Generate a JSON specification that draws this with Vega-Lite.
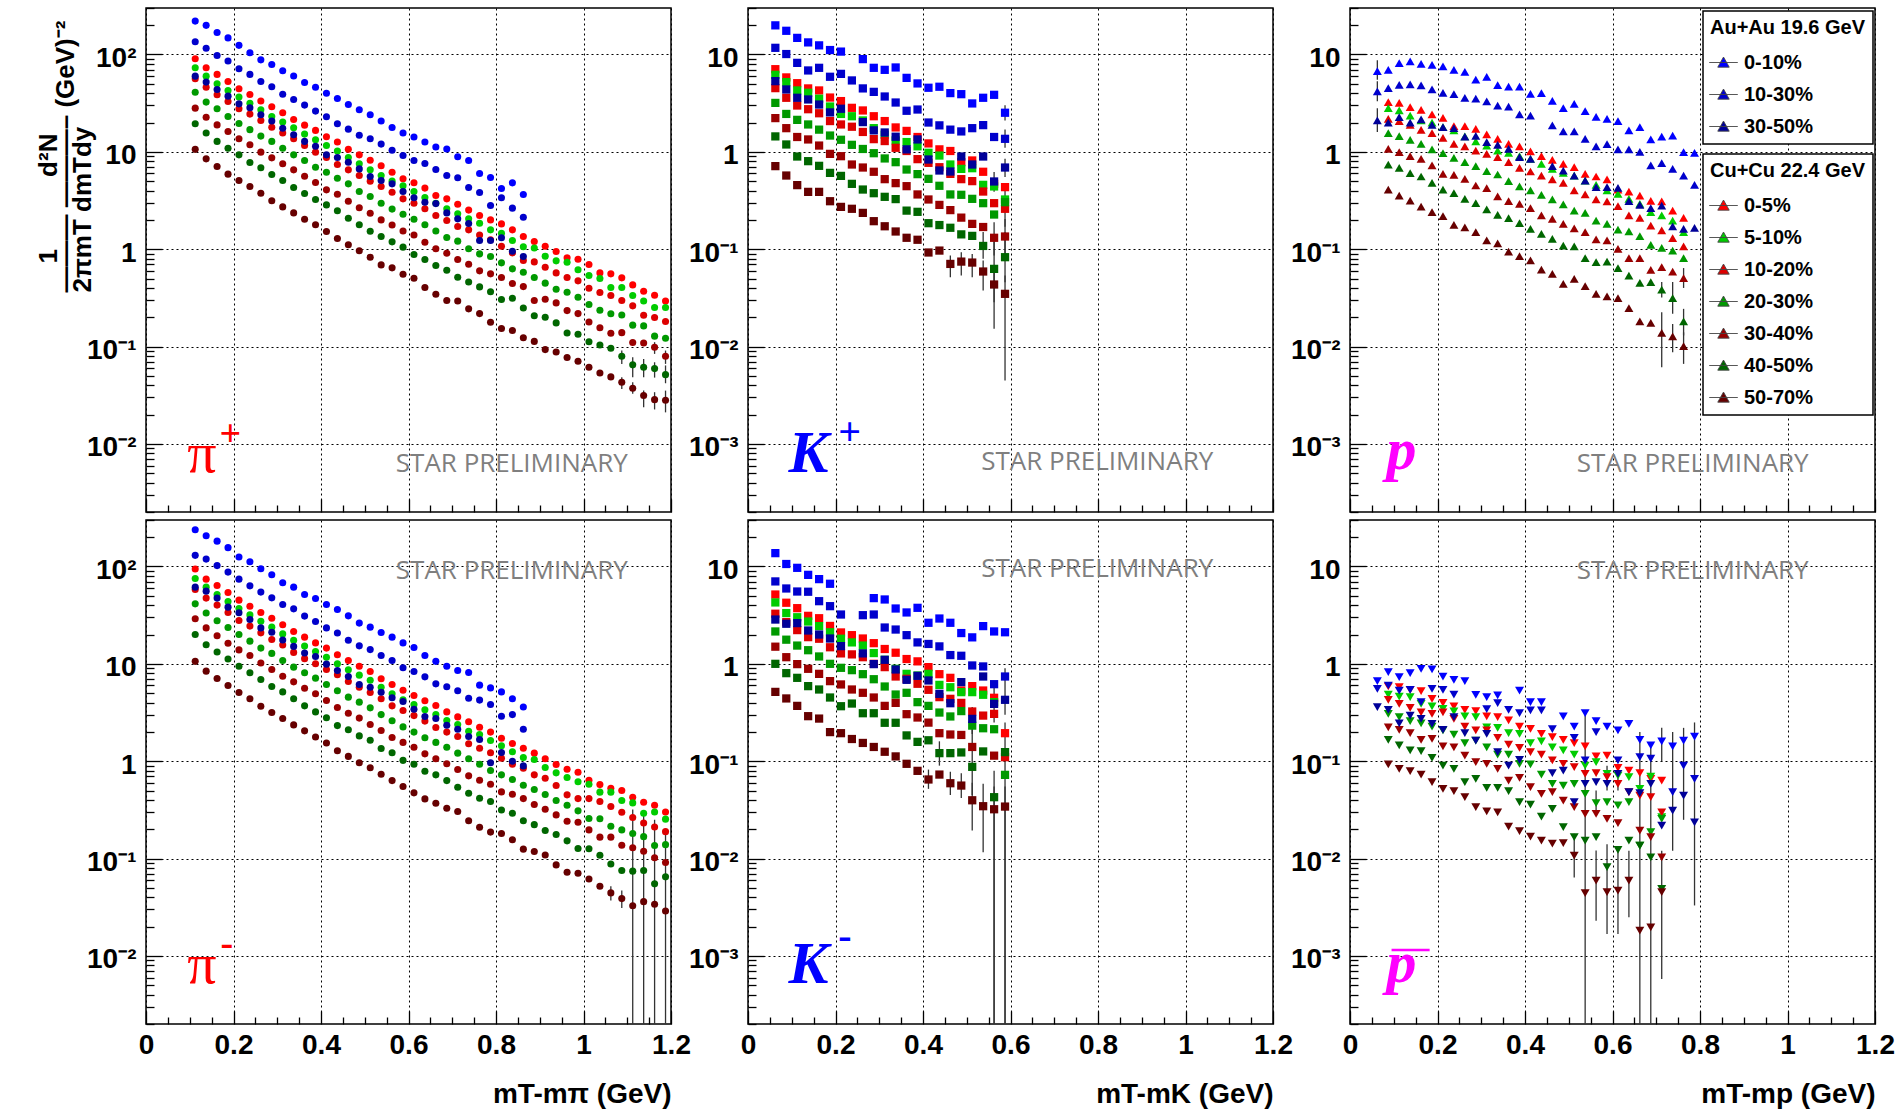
{
"$schema":"https://vega.github.io/schema/vega-lite/v6.json",
"background":"white",
"padding":{"left":34,"top":6,"right":5,"bottom":0},
"data":{"values":"p,x,0-10%,10-30%,30-50%,0-5%,5-10%,10-20%,20-30%,30-40%,40-50%,50-70%\na,0.1125,220,135,59.9,90.2,73,56.2,41,28.1,19.4,10.6\na,0.1375,199,116,52,73,59.9,46.1,32.4,22.7,15.6,8.47\na,0.1625,168,97.7,43.7,62.4,50,38.5,27.7,18.9,12.8,7.06\na,0.1875,148,85.5,37.3,52.8,42.7,32.9,23.1,16.2,10.9,5.9\na,0.2125,124,71.3,31.1,44.4,36.5,27.7,19.5,13.6,9.31,5.07\na,0.2375,104,62.4,28.3,38.8,31.6,24.4,16.9,11.8,7.76,4.4\na,0.2625,88,52.8,24,33.2,27,21,14.5,9.93,6.85,3.76\na,0.2875,79,46.6,20.7,29,23.1,17.9,12.8,8.67,5.85,3.14\na,0.3125,68,39.1,17.5,25.2,20.2,15.6,10.9,7.53,5.07,2.72\na,0.3375,60,34.5,15,21.5,17.7,13.6,9.31,6.53,4.3,2.36\na,0.3625,51.5,30.2,12.8,18.8,15.2,11.6,8.15,5.62,3.73,2.03\na,0.3875,46,26.2,11.4,16.6,13.3,9.93,6.95,4.84,3.24,1.78\na,0.4125,40,22.9,9.31,14.3,11.6,8.74,6.18,4.07,2.85,1.52\na,0.4375,35.3,19.4,8.74,12.6,10.2,7.41,5.36,3.67,2.48,1.29\na,0.4625,30.6,17.1,7.83,10.6,8.74,6.53,4.69,3.11,2.08,1.11\na,0.4875,27,14.8,6.68,9.31,7.53,5.71,3.91,2.66,1.78,0.962\na,0.5125,24,13.6,5.58,8.2,6.53,5,3.48,2.34,1.53,0.828\na,0.5375,20.7,12,5.07,7.18,5.71,4.4,2.97,2,1.35,0.69\na,0.5625,17.8,10.4,4.69,6.18,5,3.85,2.58,1.77,1.19,0.643\na,0.5875,15.6,9.16,3.91,5.28,4.48,3.29,2.29,1.54,1.05,0.553\na,0.6125,14.2,8.15,3.37,4.81,3.91,2.97,2.03,1.4,0.881,0.504\na,0.6375,12.6,7.59,3.04,4.24,3.4,2.6,1.78,1.18,0.783,0.404\na,0.6625,11.2,6.58,2.94,3.56,2.97,2.22,1.54,1.01,0.679,0.345\na,0.6875,10.7,5.71,2.36,3.29,2.6,1.97,1.32,0.91,0.608,0.297\na,0.7125,8.9,5.41,2.05,2.9,2.31,1.71,1.21,0.783,0.515,0.294\na,0.7375,8.15,4.3,1.84,2.52,2.05,1.58,1.01,0.702,0.461,0.244\na,0.7625,6,3.82,1.23,2.22,1.85,1.4,0.895,0.599,0.41,0.218\na,0.7875,5.45,2.81,1.23,2,1.58,1.25,0.841,0.558,0.365,0.178\na,0.8125,4.2,3.37,1.31,1.82,1.46,1.07,0.724,0.512,0.304,0.153\na,0.8375,4.8,2.64,0.953,1.58,1.23,0.916,0.628,0.444,0.314,0.146\na,0.8625,3.65,2.13,0.841,1.35,1.06,0.765,0.581,0.413,0.249,0.123\na,0.8875,,,,1.2,1.03,0.741,0.512,0.297,0.207,0.113\na,0.9125,,,,1.07,0.847,0.653,0.448,0.306,0.2,0.0931\na,0.9375,,,,0.946,0.759,0.571,0.388,0.281,0.175,0.0881\na,0.9625,,,,0.815,0.735,0.512,0.361,0.234,0.138,0.0771\na,0.9875,,,,0.789,0.614,0.473,0.321,0.218,0.134,0.0706\na,1.0125,,,,0.695,0.536,0.397,0.27,0.179,0.112,0.0614\na,1.0375,,,,0.571,0.5,0.359,0.236,0.156,0.104,0.0536\na,1.0625,,,,0.558,0.404,0.334,0.217,0.137,0.0962,0.0488\na,1.0875,,,,0.508,0.404,0.297,0.211,0.139,0.0796,0.0431\na,1.1125,,,,0.43,0.334,0.262,0.166,0.11,0.0649,0.0373\na,1.1375,,,,0.37,0.294,0.21,0.163,0.109,0.0614,0.0314\na,1.1625,,,,0.337,0.252,0.199,0.128,0.0984,0.0594,0.0285\na,1.1875,,,,0.294,0.252,0.181,0.122,0.0796,0.0515,0.0281\nd,0.1125,238,130,61.3,94,75.3,58.1,41.3,29,20,10.6\nd,0.1375,207,119,55.8,74.1,61.3,47.3,33.2,23.4,15.7,8.41\nd,0.1625,182,102,47.3,63.8,51.5,40.1,27.7,19.4,13.2,7.06\nd,0.1875,156,87.5,38.2,54.1,43.7,33.7,23.6,16.3,11.2,5.98\nd,0.2125,125,74.1,33.4,45.1,37,27.9,20,13.9,9.46,5.07\nd,0.2375,112,63.2,28.5,39.1,31.8,24.4,17.1,12.2,8.09,4.37\nd,0.2625,94.6,54.5,23.4,33.7,27.4,20.8,14.5,10.2,6.9,3.67\nd,0.2875,82.1,47.6,21.1,29.4,23.8,17.8,12.8,8.74,5.85,3.16\nd,0.3125,67.9,40.7,17.6,25.2,20.3,15.6,10.8,7.46,5.15,2.74\nd,0.3375,61.3,36.7,15.1,21.5,17.5,13.1,9.25,6.53,4.37,2.36\nd,0.3625,51.5,30.9,12.9,18.8,15.2,11.3,8.09,5.62,3.7,2.05\nd,0.3875,46.9,27.2,11.9,16.4,13.4,10,7.13,4.92,3.21,1.77\nd,0.4125,40.7,23.4,9.93,14.5,11.7,8.74,6.13,4.2,2.79,1.54\nd,0.4375,36.1,20.7,8.55,12.4,10,7.71,5.28,3.56,2.32,1.28\nd,0.4625,31.1,17.5,7.41,10.8,8.67,6.58,4.55,3.11,2.1,1.12\nd,0.4875,26.2,15.3,6.13,9.46,7.65,5.75,4.04,2.77,1.82,0.962\nd,0.5125,23.8,14,5.75,8.34,6.79,5.07,3.53,2.38,1.64,0.855\nd,0.5375,21,12.2,5.11,7.02,5.75,4.37,3.01,2.07,1.35,0.735\nd,0.5625,18.8,10.8,4.48,6.13,4.92,3.7,2.6,1.75,1.22,0.632\nd,0.5875,16.4,9.1,4.1,5.36,4.27,3.32,2.25,1.56,1.02,0.55\nd,0.6125,14.7,8.34,3.42,4.73,3.82,2.94,1.99,1.39,0.931,0.473\nd,0.6375,12.2,7.35,2.88,4.17,3.37,2.58,1.74,1.19,0.789,0.41\nd,0.6625,10.6,6.23,2.74,3.73,3.01,2.22,1.56,1.06,0.724,0.37\nd,0.6875,9.46,5.81,2.34,3.21,2.62,1.99,1.39,0.94,0.632,0.329\nd,0.7125,8.55,5.28,2.13,2.85,2.38,1.79,1.21,0.821,0.541,0.304\nd,0.7375,8.15,4.44,1.79,2.54,2.03,1.51,1.06,0.707,0.469,0.245\nd,0.7625,6.04,4.24,1.67,2.23,1.88,1.36,0.931,0.638,0.417,0.21\nd,0.7875,5.66,3.82,0.962,1.99,1.63,1.22,0.802,0.581,0.385,0.187\nd,0.8125,5.15,2.9,1.23,1.72,1.44,1.07,0.724,0.484,0.316,0.181\nd,0.8375,4.37,3.01,1,1.52,1.25,0.931,0.649,0.458,0.292,0.156\nd,0.8625,3.61,2.13,0.895,1.36,1.09,0.847,0.566,0.413,0.245,0.125\nd,0.8875,,,,1.21,1.04,0.724,0.512,0.359,0.223,0.118\nd,0.9125,,,,1.06,0.861,0.668,0.455,0.321,0.194,0.109\nd,0.9375,,,,0.925,0.759,0.562,0.394,0.281,0.177,0.0861\nd,0.9625,,,,0.828,0.679,0.451,0.353,0.242,0.152,0.0724\nd,0.9875,,,,0.771,0.614,0.413,0.309,0.236,0.127,0.0706\nd,1.0125,,,,0.638,0.581,0.413,0.258,0.197,0.126,0.0618\nd,1.0375,,,,0.575,0.481,0.385,0.256,0.166,0.108,0.052\nd,1.0625,,,,0.528,0.481,0.342,0.215,0.166,0.0881,0.0444\nd,1.0875,,,,0.5,0.394,0.299,0.197,0.137,0.0753,0.0388\nd,1.1125,,,,0.427,0.373,0.264,0.181,0.129,0.0743,0.0327\nd,1.1375,,,,0.379,0.292,0.232,0.168,0.119,0.0753,0.0361\nd,1.1625,,,,0.353,0.301,0.211,0.136,0.102,0.055,0.034\nd,1.1875,,,,0.301,0.254,0.189,0.139,0.091,0.0649,0.029\nb,0.0625,19.9,11.7,5.32,7.06,6.18,4.51,3.18,2.22,1.44,0.713\nb,0.0875,17.5,10.1,4.37,5.81,5.2,3.59,2.45,1.75,1.19,0.571\nb,0.1125,14.8,8.2,3.59,5.07,4.27,2.99,2.13,1.42,0.895,0.455\nb,0.1375,13.3,6.85,3.45,4.48,4.04,2.74,1.91,1.34,0.802,0.388\nb,0.1625,12.4,7.29,3.06,4.27,3.51,2.49,1.69,1.16,0.718,0.388\nb,0.1875,11.1,5.9,2.54,3.61,2.92,2.07,1.47,0.953,0.608,0.311\nb,0.2125,10.7,6.32,2.77,3.32,2.45,1.91,1.33,0.902,0.566,0.272\nb,0.2375,,5.41,,2.83,2.32,1.81,1.18,0.741,0.469,0.26\nb,0.2625,8.96,4.48,2.02,2.66,2.1,1.6,1.07,0.69,0.41,0.236\nb,0.2875,7.29,4.13,1.66,2.32,1.75,1.35,0.968,0.624,0.376,0.194\nb,0.3125,6.95,3.7,1.58,2.07,1.5,1.29,0.855,0.524,0.345,0.172\nb,0.3375,7.35,3.21,1.43,1.78,1.31,1.1,0.783,0.477,0.327,0.152\nb,0.3625,5.75,2.64,1.06,1.64,1.26,1.02,0.658,0.444,0.249,0.131\nb,0.3875,5.04,2.72,1.34,1.42,1.14,0.841,0.59,0.365,0.242,0.125\nb,0.4125,4.55,2,0.834,1.22,0.977,0.771,0.528,0.324,0.185,0.0925\nb,0.4375,4.66,1.87,0.643,1.06,0.916,0.695,0.448,0.285,0.177,0.0968\nb,0.4625,4.01,1.69,0.628,1.02,0.741,0.594,0.365,0.252,0.166,0.0706\nb,0.4875,3.91,1.62,0.895,0.783,0.668,0.524,0.362,0.211,0.142,0.0746\nb,0.5125,3.14,1.75,0.741,0.815,0.679,0.5,0.329,0.182,0.137,0.0729\nb,0.5375,3.59,1.88,0.895,0.624,0.458,0.391,0.297,0.169,0.108,0.059\nb,0.5625,3.85,1.42,0.496,0.469,0.441,0.297,0.227,0.131,0.0628,0.0434\nb,0.5875,2.52,1.36,0.69,0.434,0.324,0.26,0.304,0.135,0.0828,0.0348\ne,0.0625,13.7,7.02,2.85,5.15,4.27,3.27,2.15,1.5,1,0.515\ne,0.0875,10.6,5.94,2.58,4.24,3.32,2.68,1.77,1.17,0.802,0.441\ne,0.1125,9.68,5.53,2.62,3.73,3.01,2.22,1.54,0.993,0.718,0.37\ne,0.1375,8.2,5.5,2.2,3.11,2.72,1.88,1.38,0.889,0.59,0.29\ne,0.1625,7.41,4.4,2,2.94,2.44,1.81,1.19,0.789,0.545,0.274\ne,0.1875,6.64,3.91,1.82,2.45,2.11,1.48,1,0.664,0.451,0.199\ne,0.2125,,3.21,1.52,2.1,1.81,1.28,0.91,0.614,0.367,0.194\ne,0.2375,,,,1.97,1.66,1.25,0.861,0.545,0.391,0.169\ne,0.2625,,3.16,1.28,1.82,1.54,1.17,0.783,0.504,0.311,0.154\ne,0.2875,4.73,3.21,0.993,1.63,1.29,1,0.695,0.451,0.311,0.14\ne,0.3125,4.58,2.36,1.1,1.42,1.1,0.925,0.585,0.37,0.248,0.125\ne,0.3375,3.7,2.25,0.875,1.3,0.889,0.741,0.484,0.397,0.248,0.112\ne,0.3625,3.37,1.97,0.685,1.12,0.789,0.702,0.504,0.304,0.184,0.094\ne,0.3875,3.76,1.66,0.753,1.06,0.759,0.624,0.404,0.281,0.158,0.0796\ne,0.4125,2.64,1.6,0.675,0.925,0.789,0.541,0.37,0.249,0.164,0.0649\ne,0.4375,2.92,1.51,0.492,0.783,0.608,0.455,0.316,0.194,0.121,0.0729\ne,0.4625,2.64,1.23,0.394,0.718,0.575,0.437,0.288,0.188,0.121,0.0594\ne,0.4875,2.07,1.21,0.649,0.532,0.512,0.397,0.327,0.186,0.123,0.0562\ne,0.5125,1.87,0.962,0.272,0.59,0.512,0.324,0.232,0.14,0.0875,0.0397\ne,0.5375,2.44,0.94,0.741,0.532,0.481,0.294,0.218,,0.126,0.0345\ne,0.5625,2.15,0.618,0.388,0.448,0.404,0.306,0.213,0.114,0.0427,0.0321\ne,0.5875,2.11,0.741,0.427,0.194,,0.11,0.0724,,0.124,0.0342\nc,0.0625,6.75,4.17,2.1,,,,,,,\nc,0.0875,6.95,4.51,1.99,3.24,2.81,2.18,1.56,1.07,0.741,0.41\nc,0.1125,8.15,4.88,2.27,3.18,2.66,2.07,1.45,0.993,0.685,0.356\nc,0.1375,8.47,4.92,1.99,2.88,2.36,1.89,1.33,0.902,0.604,0.316\nc,0.1625,8.02,4.81,2.15,2.7,2.1,1.68,1.21,0.847,0.558,0.274\nc,0.1875,7.83,4.37,1.89,2.42,1.99,1.56,1.06,0.724,0.481,0.24\nc,0.2125,7.53,4.04,1.79,2.23,1.79,1.39,0.968,0.594,0.41,0.218\nc,0.2375,6.95,3.91,1.75,1.84,1.66,1.21,0.867,0.581,0.376,0.178\nc,0.2625,6.64,3.59,1.43,1.84,1.44,1.14,0.783,0.528,0.329,0.168\nc,0.2875,5.5,3.51,1.46,1.72,1.28,1.03,0.713,0.451,0.297,0.15\nc,0.3125,5.9,3.29,1.26,1.51,1.16,0.953,0.633,0.424,0.256,0.123\nc,0.3375,4.84,2.99,1.18,1.36,1.03,0.881,0.585,0.348,0.225,0.115\nc,0.3625,4.66,2.92,1.07,1.21,0.977,0.783,0.5,0.311,0.208,0.0946\nc,0.3875,4.66,2.42,0.881,1.14,0.902,0.685,0.441,0.292,0.185,0.0847\nc,0.4125,3.94,2.36,0.847,1.01,0.847,0.628,0.401,0.264,0.162,0.0766\nc,0.4375,4.01,,,0.902,0.753,0.571,0.361,0.222,0.144,0.0618\nc,0.4625,3.34,1.87,0.713,0.828,0.668,0.52,0.324,0.205,0.128,0.0558\nc,0.4875,2.81,1.62,0.643,0.753,0.608,0.481,0.288,0.182,0.109,0.0441\nc,0.5125,3.11,1.62,0.571,0.695,0.571,0.401,0.249,0.164,0.107,0.0495\nc,0.5375,2.62,1.36,0.507,0.594,0.507,0.365,0.236,0.15,0.0809,0.0417\nc,0.5625,2.29,1.14,0.434,0.558,0.458,0.324,0.197,0.126,0.0735,0.0348\nc,0.5875,2.18,1.2,0.434,0.52,0.401,0.309,0.182,0.123,0.0746,0.0327\nc,0.6125,2.07,1.06,0.427,0.41,0.37,0.277,0.159,0.101,0.0638,0.0314\nc,0.6375,1.66,1.06,0.311,0.391,0.329,0.222,0.152,0.0809,0.0536,0.0248\nc,0.6625,1.79,1,0.285,0.356,0.292,0.21,0.136,0.0809,0.0451,0.0181\nc,0.6875,1.34,0.724,0.264,0.314,0.24,0.175,0.111,0.0614,0.046,0.0175\nc,0.7125,1.43,0.765,0.281,0.309,0.222,0.156,0.103,0.0653,0.0385,0.0138\nc,0.7375,1.47,0.668,0.172,0.249,0.197,0.13,0.0968,0.059,0.0314,0.0127\nc,0.7625,0.993,0.571,0.162,0.21,0.15,0.107,0.0809,0.0504,0.0181,0.0101\nc,0.7875,0.977,0.458,0.166,,,,,,,\nf,0.0625,0.664,0.553,0.359,,,,,,,\nf,0.0875,0.821,0.599,0.337,0.585,0.484,0.427,0.306,0.223,0.166,0.0925\nf,0.1125,0.73,0.532,0.245,0.575,0.461,0.388,0.283,0.21,0.145,0.0834\nf,0.1375,0.802,0.541,0.294,0.541,0.455,0.353,0.258,0.194,0.129,0.0789\nf,0.1625,0.889,0.404,0.272,0.524,0.388,0.318,0.245,0.166,0.127,0.0729\nf,0.1875,0.875,0.553,0.242,0.437,0.365,0.306,0.227,0.17,0.108,0.0608\nf,0.2125,0.741,0.541,0.21,0.397,0.345,0.318,0.207,0.142,0.0902,0.052\nf,0.2375,0.685,0.484,0.283,0.365,0.324,0.272,0.188,0.139,0.0834,0.0492\nf,0.2625,0.664,,0.194,0.337,0.288,0.227,0.153,0.114,0.0608,0.0427\nf,0.2875,0.481,,0.163,0.327,0.283,0.207,0.163,0.0977,0.0658,0.0337\nf,0.3125,0.455,0.342,0.191,0.288,0.223,0.207,0.139,0.094,0.0532,0.0306\nf,0.3375,0.473,0.394,0.124,0.283,0.22,0.174,0.117,0.0834,0.0532,0.0299\nf,0.3625,,0.337,0.0902,0.262,0.194,0.148,0.117,0.0632,0.0492,0.0213\nf,0.3875,0.532,0.311,0.103,0.227,0.191,0.137,0.094,0.0674,0.0379,0.0191\nf,0.4125,0.404,0.332,,0.215,0.153,0.124,0.0925,0.0541,0.0359,0.0168\nf,0.4375,0.404,0.332,,0.191,0.16,0.117,0.0729,0.0462,0.027,0.0153\nf,0.4625,,0.213,0.0753,0.177,0.139,0.102,0.0585,0.0481,0.0324,0.0142\nf,0.4875,0.288,,0.0802,0.166,0.129,0.094,0.0562,0.0394,0.021,0.0144\nf,0.5125,0.227,0.174,0.0379,0.153,0.117,0.0867,0.0585,0.0337,0.0166,0.0107\nf,0.5375,0.311,0.102,0.0585,0.142,0.0902,0.0741,0.0462,0.0288,0.0153,0.00441\nf,0.5625,0.258,0.199,0.0608,0.112,0.0977,0.0753,0.037,0.0288,0.0166,0.00594\nf,0.5875,0.227,,0.0585,0.114,0.0741,0.0685,0.0379,0.0256,0.00815,0.00451\nf,0.6125,0.207,0.102,0.0741,0.0855,0.0713,0.0585,0.0351,0.0231,0.0123,0.00469\nf,0.6375,0.242,,0.0481,0.0802,0.0685,0.0481,0.0379,,0.0153,0.00594\nf,0.6625,0.166,0.11,0.0469,0.0753,0.052,0.0444,0.0136,0.0194,0.0136,0.00182\nf,0.6875,0.145,0.106,0.0585,0.0658,0.0695,0.0427,0.0187,0.0166,0.0103,0.00197\nf,0.7125,0.16,,0.0218,0.0632,0.0266,0.0299,0.0256,0.0103,0.00488,0.00451\nf,0.7375,0.142,0.0481,0.0311,,,,,,,\nf,0.7625,0.163,0.0902,0.0444,,,,,,,\nf,0.7875,0.179,0.0658,0.0236,,,,,,,","format":{"type":"csv","parse":{"x":"number","0-10%":"number","10-30%":"number","30-50%":"number","0-5%":"number","5-10%":"number","10-20%":"number","20-30%":"number","30-40%":"number","40-50%":"number","50-70%":"number"}}},
"columns":3,
"spacing":{"row":8,"column":77},
"bounds":"flush",
"concat":[
{"width":525,"height":504,"resolve":{"axis":{"x":"independent","y":"independent"}},
"layer":[
{"data":{"values":"x,lo,hi\n1.0875,0.0367,0.0484\n1.1125,0.0327,0.0431\n1.1375,0.0238,0.0353\n1.1625,0.0226,0.034\n1.1875,0.0211,0.0353\n1.0875,0.0664,0.091\n1.1125,0.0484,0.0776\n1.1375,0.0484,0.0745\n1.1625,0.048,0.069\n1.1875,0.042,0.064\n1.1625,0.0841,0.111\n1.1875,0.0664,0.091","format":{"type":"csv","parse":{"x":"number","lo":"number","hi":"number"}}},
"mark":{"type":"rule","color":"#333","strokeWidth":1.3,"clip":true},
"encoding":{"x":{"field":"x","type":"quantitative","scale":{"domain":[0,1.2],"nice":false,"zero":false},"axis":{"orient":"bottom","values":[0,0.2,0.4,0.6,0.8,1,1.2],"tickSize":-13,"labels":false,"grid":true,"title":null}},
"y":{"field":"lo","type":"quantitative","scale":{"type":"log","domain":[0.002,300],"nice":false},"axis":{"orient":"left","values":[0.01,0.1,1,10,100],"tickSize":-16,"grid":true,"labelExpr":"datum.value==100?'10²':datum.value==10?'10':datum.value==1?'1':datum.value==0.1?'10⁻¹':datum.value==0.01?'10⁻²':datum.value==0.001?'10⁻³':''","labelPadding":26,"labelOffset":4,"title":["\u200b\u00a0\u00a0\u00a0\u00a01\u00a0\u00a0\u00a0\u00a0\u00a0\u00a0\u00a0\u00a0\u00a0\u00a0d²N","———\u00a0———–\u00a0(GeV)⁻²","2πmT\u00a0dmTdy"],"titleFontSize":26,"titleLineHeight":17,"titleX":-98,"titleY":284,"titleAngle":-90,"titleAlign":"left","titleBaseline":"middle"}},"y2":{"field":"hi"}}},
{"transform":[{"filter":"datum.p=='a'"},{"fold":["0-5%","5-10%","10-20%","20-30%","30-40%","40-50%","50-70%"],"as":["s","y"]},{"filter":"isValid(datum.y)"}],
"mark":{"type":"point","shape":"circle","filled":true,"size":50,"opacity":1},
"encoding":{"x":{"field":"x","type":"quantitative","scale":{"domain":[0,1.2],"nice":false,"zero":false},"axis":null},"y":{"field":"y","type":"quantitative","scale":{"type":"log","domain":[0.002,300],"nice":false},"axis":null},
"fill":{"field":"s","type":"nominal","scale":{"domain":["0-5%","5-10%","10-20%","20-30%","30-40%","40-50%","50-70%"],"range":["#ff0000","#00cc00","#dd0000","#009900","#990000","#006600","#660000"]}}}},
{"transform":[{"filter":"datum.p=='a'"},{"fold":["0-10%","10-30%","30-50%"],"as":["s","y"]},{"filter":"isValid(datum.y)"}],
"mark":{"type":"point","shape":"circle","filled":true,"size":50,"opacity":1},
"encoding":{"x":{"field":"x","type":"quantitative","scale":{"domain":[0,1.2],"nice":false,"zero":false},"axis":{"orient":"bottom","values":[0.05,0.1,0.15,0.25,0.3,0.35,0.45,0.5,0.55,0.65,0.7,0.75,0.85,0.9,0.95,1.05,1.1,1.15],"tickSize":-7,"labels":false,"grid":false,"title":null}},
"y":{"field":"y","type":"quantitative","scale":{"type":"log","domain":[0.002,300],"nice":false},"axis":{"orient":"left","values":[0.002,0.003,0.004,0.005,0.006,0.007,0.008,0.009,0.02,0.03,0.04,0.05,0.06,0.07,0.08,0.09,0.2,0.3,0.4,0.5,0.6,0.7,0.8,0.9,2,3,4,5,6,7,8,9,20,30,40,50,60,70,80,90,200,300],"tickSize":-8,"labels":false,"grid":false,"title":null}},
"color":{"field":"s","type":"nominal","scale":{"domain":["0-10%","10-30%","30-50%"],"range":["#0000ff","#0000cc","#000099"]}}}},
{"data":{"values":[{}]},"mark":{"type":"text","text":"STAR PRELIMINARY","font":"Open Sans","fontSize":26,"color":"#7f7f7f","align":"left","baseline":"alphabetic"},"encoding":{"x":{"datum":0.571,"type":"quantitative","axis":null},"y":{"datum":0.00516,"type":"quantitative","axis":null}}},
{"data":{"values":[{}]},"mark":{"type":"text","text":"π","font":"Liberation Serif","fontSize":58,"color":"#ff0000","align":"left","baseline":"alphabetic"},"encoding":{"x":{"datum":0.094,"type":"quantitative","axis":null},"y":{"datum":0.00516,"type":"quantitative","axis":null}}},
{"data":{"values":[{}]},"mark":{"type":"text","text":"+","font":"Liberation Serif","fontSize":38,"fontWeight":"bold","color":"#ff0000","align":"left","baseline":"alphabetic"},"encoding":{"x":{"datum":0.168,"type":"quantitative","axis":null},"y":{"datum":0.0095,"type":"quantitative","axis":null}}}
]},
{"width":525,"height":504,"resolve":{"axis":{"x":"independent","y":"independent"}},
"layer":[
{"data":{"values":"x,lo,hi\n0.4625,0.0515,0.0861\n0.4875,0.0536,0.0931\n0.5125,0.0515,0.0895\n0.5375,0.0376,0.0766\n0.5625,0.0152,0.0628\n0.5875,0.00448,0.0536\n0.5375,0.0797,0.15\n0.5625,0.0285,0.138\n0.5875,0.0458,0.15\n0.5625,0.0861,0.189\n0.5875,0.0866,0.204\n0.5875,0.17,0.4\n0.5875,2.1,3.0\n0.5875,1.1,1.7\n0.5625,0.39,0.62\n0.5875,0.55,0.85","format":{"type":"csv","parse":{"x":"number","lo":"number","hi":"number"}}},
"mark":{"type":"rule","color":"#333","strokeWidth":1.3,"clip":true},
"encoding":{"x":{"field":"x","type":"quantitative","scale":{"domain":[0,1.2],"nice":false,"zero":false},"axis":{"orient":"bottom","values":[0,0.2,0.4,0.6,0.8,1,1.2],"tickSize":-13,"labels":false,"grid":true,"title":null}},
"y":{"field":"lo","type":"quantitative","scale":{"type":"log","domain":[0.0002,30],"nice":false},"axis":{"orient":"left","values":[0.001,0.01,0.1,1,10],"tickSize":-16,"grid":true,"labelExpr":"datum.value==100?'10²':datum.value==10?'10':datum.value==1?'1':datum.value==0.1?'10⁻¹':datum.value==0.01?'10⁻²':datum.value==0.001?'10⁻³':''","labelPadding":26,"labelOffset":4,"title":null}},"y2":{"field":"hi"}}},
{"transform":[{"filter":"datum.p=='b'"},{"fold":["0-5%","5-10%","10-20%","20-30%","30-40%","40-50%","50-70%"],"as":["s","y"]},{"filter":"isValid(datum.y)"}],
"mark":{"type":"point","shape":"square","filled":true,"size":68,"opacity":1},
"encoding":{"x":{"field":"x","type":"quantitative","scale":{"domain":[0,1.2],"nice":false,"zero":false},"axis":null},"y":{"field":"y","type":"quantitative","scale":{"type":"log","domain":[0.0002,30],"nice":false},"axis":null},
"fill":{"field":"s","type":"nominal","scale":{"domain":["0-5%","5-10%","10-20%","20-30%","30-40%","40-50%","50-70%"],"range":["#ff0000","#00cc00","#dd0000","#009900","#990000","#006600","#660000"]}}}},
{"transform":[{"filter":"datum.p=='b'"},{"fold":["0-10%","10-30%","30-50%"],"as":["s","y"]},{"filter":"isValid(datum.y)"}],
"mark":{"type":"point","shape":"square","filled":true,"size":68,"opacity":1},
"encoding":{"x":{"field":"x","type":"quantitative","scale":{"domain":[0,1.2],"nice":false,"zero":false},"axis":{"orient":"bottom","values":[0.05,0.1,0.15,0.25,0.3,0.35,0.45,0.5,0.55,0.65,0.7,0.75,0.85,0.9,0.95,1.05,1.1,1.15],"tickSize":-7,"labels":false,"grid":false,"title":null}},
"y":{"field":"y","type":"quantitative","scale":{"type":"log","domain":[0.0002,30],"nice":false},"axis":{"orient":"left","values":[0.0002,0.0003,0.0004,0.0005,0.0006,0.0007,0.0008,0.0009,0.002,0.003,0.004,0.005,0.006,0.007,0.008,0.009,0.02,0.03,0.04,0.05,0.06,0.07,0.08,0.09,0.2,0.3,0.4,0.5,0.6,0.7,0.8,0.9,2,3,4,5,6,7,8,9,20,30],"tickSize":-8,"labels":false,"grid":false,"title":null}},
"color":{"field":"s","type":"nominal","scale":{"domain":["0-10%","10-30%","30-50%"],"range":["#0000ff","#0000cc","#000099"]}}}},
{"data":{"values":[{}]},"mark":{"type":"text","text":"STAR PRELIMINARY","font":"Open Sans","fontSize":26,"color":"#7f7f7f","align":"left","baseline":"alphabetic"},"encoding":{"x":{"datum":0.533,"type":"quantitative","axis":null},"y":{"datum":0.000537,"type":"quantitative","axis":null}}},
{"data":{"values":[{}]},"mark":{"type":"text","text":"K","font":"Liberation Serif","fontSize":60,"fontStyle":"italic","fontWeight":"bold","color":"#0000ff","align":"left","baseline":"alphabetic"},"encoding":{"x":{"datum":0.0923,"type":"quantitative","axis":null},"y":{"datum":0.000516,"type":"quantitative","axis":null}}},
{"data":{"values":[{}]},"mark":{"type":"text","text":"+","font":"Liberation Serif","fontSize":40,"fontWeight":"bold","color":"#0000ff","align":"left","baseline":"alphabetic"},"encoding":{"x":{"datum":0.206,"type":"quantitative","axis":null},"y":{"datum":0.00097,"type":"quantitative","axis":null}}}
]},
{"width":525,"height":504,"resolve":{"axis":{"x":"independent","y":"independent"}},
"layer":[
{"data":{"values":"x,lo,hi\n0.0625,5.5,8.7\n0.0625,3.3,5.3\n0.0625,1.6,2.8\n0.7125,0.00614,0.0225\n0.7375,0.00875,0.0171\n0.7625,0.00664,0.014\n0.7375,0.0217,0.046\n0.7625,0.013,0.0244\n0.7625,0.04,0.064\n0.7125,0.032,0.046","format":{"type":"csv","parse":{"x":"number","lo":"number","hi":"number"}}},
"mark":{"type":"rule","color":"#333","strokeWidth":1.3,"clip":true},
"encoding":{"x":{"field":"x","type":"quantitative","scale":{"domain":[0,1.2],"nice":false,"zero":false},"axis":{"orient":"bottom","values":[0,0.2,0.4,0.6,0.8,1,1.2],"tickSize":-13,"labels":false,"grid":true,"title":null}},
"y":{"field":"lo","type":"quantitative","scale":{"type":"log","domain":[0.0002,30],"nice":false},"axis":{"orient":"left","values":[0.001,0.01,0.1,1,10],"tickSize":-16,"grid":true,"labelExpr":"datum.value==100?'10²':datum.value==10?'10':datum.value==1?'1':datum.value==0.1?'10⁻¹':datum.value==0.01?'10⁻²':datum.value==0.001?'10⁻³':''","labelPadding":26,"labelOffset":4,"title":null}},"y2":{"field":"hi"}}},
{"transform":[{"filter":"datum.p=='c'"},{"fold":["0-5%","5-10%","10-20%","20-30%","30-40%","40-50%","50-70%"],"as":["s","y"]},{"filter":"isValid(datum.y)"}],
"mark":{"type":"point","shape":"triangle-up","filled":true,"size":80,"opacity":1},
"encoding":{"x":{"field":"x","type":"quantitative","scale":{"domain":[0,1.2],"nice":false,"zero":false},"axis":null},"y":{"field":"y","type":"quantitative","scale":{"type":"log","domain":[0.0002,30],"nice":false},"axis":null},
"fill":{"field":"s","type":"nominal","scale":{"domain":["0-5%","5-10%","10-20%","20-30%","30-40%","40-50%","50-70%"],"range":["#ff0000","#00cc00","#dd0000","#009900","#990000","#006600","#660000"]},"legend":{"title":"Cu+Cu 22.4 GeV","orient":"none","legendX":1557,"legendY":146,"direction":"vertical","symbolType":"M-1.1,0H1.1M0,-0.42L0.44,0.36H-0.44Z","symbolSize":676,"symbolStrokeColor":"#444","symbolStrokeWidth":0.9,"encode":{"symbols":{"update":{"stroke":{"value":"#444"},"strokeWidth":{"value":0.9}}}}}}}},
{"transform":[{"filter":"datum.p=='c'"},{"fold":["0-10%","10-30%","30-50%"],"as":["s","y"]},{"filter":"isValid(datum.y)"}],
"mark":{"type":"point","shape":"triangle-up","filled":true,"size":80,"opacity":1},
"encoding":{"x":{"field":"x","type":"quantitative","scale":{"domain":[0,1.2],"nice":false,"zero":false},"axis":{"orient":"bottom","values":[0.05,0.1,0.15,0.25,0.3,0.35,0.45,0.5,0.55,0.65,0.7,0.75,0.85,0.9,0.95,1.05,1.1,1.15],"tickSize":-7,"labels":false,"grid":false,"title":null}},
"y":{"field":"y","type":"quantitative","scale":{"type":"log","domain":[0.0002,30],"nice":false},"axis":{"orient":"left","values":[0.0002,0.0003,0.0004,0.0005,0.0006,0.0007,0.0008,0.0009,0.002,0.003,0.004,0.005,0.006,0.007,0.008,0.009,0.02,0.03,0.04,0.05,0.06,0.07,0.08,0.09,0.2,0.3,0.4,0.5,0.6,0.7,0.8,0.9,2,3,4,5,6,7,8,9,20,30],"tickSize":-8,"labels":false,"grid":false,"title":null}},
"color":{"field":"s","type":"nominal","scale":{"domain":["0-10%","10-30%","30-50%"],"range":["#0000ff","#0000cc","#000099"]},"legend":{"title":"Au+Au 19.6 GeV","orient":"none","legendX":1557,"legendY":3,"direction":"vertical","symbolType":"M-1.1,0H1.1M0,-0.42L0.44,0.36H-0.44Z","symbolSize":676,"symbolStrokeColor":"#444","symbolStrokeWidth":0.9,"encode":{"symbols":{"update":{"stroke":{"value":"#444"},"strokeWidth":{"value":0.9}}}}}}}},
{"data":{"values":[{}]},"mark":{"type":"text","text":"STAR PRELIMINARY","font":"Open Sans","fontSize":26,"color":"#7f7f7f","align":"left","baseline":"alphabetic"},"encoding":{"x":{"datum":0.518,"type":"quantitative","axis":null},"y":{"datum":0.000516,"type":"quantitative","axis":null}}},
{"data":{"values":[{}]},"mark":{"type":"text","text":"p","font":"Liberation Serif","fontSize":60,"fontStyle":"italic","fontWeight":"bold","color":"#ff00ff","align":"left","baseline":"alphabetic"},"encoding":{"x":{"datum":0.0837,"type":"quantitative","axis":null},"y":{"datum":0.000558,"type":"quantitative","axis":null}}}
]},
{"width":525,"height":504,"resolve":{"axis":{"x":"independent","y":"independent"}},
"layer":[
{"data":{"values":"x,lo,hi\n1.1125,0.0003,0.32\n1.1375,0.0003,0.3\n1.1625,0.0003,0.25\n1.1875,0.0003,0.18\n1.0875,0.031,0.047\n1.0625,0.037,0.052","format":{"type":"csv","parse":{"x":"number","lo":"number","hi":"number"}}},
"mark":{"type":"rule","color":"#333","strokeWidth":1.3,"clip":true},
"encoding":{"x":{"field":"x","type":"quantitative","scale":{"domain":[0,1.2],"nice":false,"zero":false},"axis":{"orient":"bottom","values":[0,0.2,0.4,0.6,0.8,1,1.2],"tickSize":-13,"grid":true,"labelPadding":20,"labelExpr":"''+datum.value","title":"mT-mπ (GeV)","titleX":525,"titleY":78,"titleAlign":"right","titleBaseline":"alphabetic"}},
"y":{"field":"lo","type":"quantitative","scale":{"type":"log","domain":[0.002,300],"nice":false},"axis":{"orient":"left","values":[0.01,0.1,1,10,100],"tickSize":-16,"grid":true,"labelExpr":"datum.value==100?'10²':datum.value==10?'10':datum.value==1?'1':datum.value==0.1?'10⁻¹':datum.value==0.01?'10⁻²':datum.value==0.001?'10⁻³':''","labelPadding":26,"labelOffset":4,"title":null}},"y2":{"field":"hi"}}},
{"transform":[{"filter":"datum.p=='d'"},{"fold":["0-5%","5-10%","10-20%","20-30%","30-40%","40-50%","50-70%"],"as":["s","y"]},{"filter":"isValid(datum.y)"}],
"mark":{"type":"point","shape":"circle","filled":true,"size":50,"opacity":1},
"encoding":{"x":{"field":"x","type":"quantitative","scale":{"domain":[0,1.2],"nice":false,"zero":false},"axis":null},"y":{"field":"y","type":"quantitative","scale":{"type":"log","domain":[0.002,300],"nice":false},"axis":null},
"fill":{"field":"s","type":"nominal","scale":{"domain":["0-5%","5-10%","10-20%","20-30%","30-40%","40-50%","50-70%"],"range":["#ff0000","#00cc00","#dd0000","#009900","#990000","#006600","#660000"]}}}},
{"transform":[{"filter":"datum.p=='d'"},{"fold":["0-10%","10-30%","30-50%"],"as":["s","y"]},{"filter":"isValid(datum.y)"}],
"mark":{"type":"point","shape":"circle","filled":true,"size":50,"opacity":1},
"encoding":{"x":{"field":"x","type":"quantitative","scale":{"domain":[0,1.2],"nice":false,"zero":false},"axis":{"orient":"bottom","values":[0.05,0.1,0.15,0.25,0.3,0.35,0.45,0.5,0.55,0.65,0.7,0.75,0.85,0.9,0.95,1.05,1.1,1.15],"tickSize":-7,"labels":false,"grid":false,"title":null}},
"y":{"field":"y","type":"quantitative","scale":{"type":"log","domain":[0.002,300],"nice":false},"axis":{"orient":"left","values":[0.002,0.003,0.004,0.005,0.006,0.007,0.008,0.009,0.02,0.03,0.04,0.05,0.06,0.07,0.08,0.09,0.2,0.3,0.4,0.5,0.6,0.7,0.8,0.9,2,3,4,5,6,7,8,9,20,30,40,50,60,70,80,90,200,300],"tickSize":-8,"labels":false,"grid":false,"title":null}},
"color":{"field":"s","type":"nominal","scale":{"domain":["0-10%","10-30%","30-50%"],"range":["#0000ff","#0000cc","#000099"]}}}},
{"data":{"values":[{}]},"mark":{"type":"text","text":"STAR PRELIMINARY","font":"Open Sans","fontSize":26,"color":"#7f7f7f","align":"left","baseline":"alphabetic"},"encoding":{"x":{"datum":0.571,"type":"quantitative","axis":null},"y":{"datum":73.6,"type":"quantitative","axis":null}}},
{"data":{"values":[{}]},"mark":{"type":"text","text":"π","font":"Liberation Serif","fontSize":58,"color":"#ff0000","align":"left","baseline":"alphabetic"},"encoding":{"x":{"datum":0.094,"type":"quantitative","axis":null},"y":{"datum":0.00524,"type":"quantitative","axis":null}}},
{"data":{"values":[{}]},"mark":{"type":"text","text":"-","font":"Liberation Serif","fontSize":38,"fontWeight":"bold","color":"#ff0000","align":"left","baseline":"alphabetic"},"encoding":{"x":{"datum":0.1705,"type":"quantitative","axis":null},"y":{"datum":0.0102,"type":"quantitative","axis":null}}}
]},
{"width":525,"height":504,"resolve":{"axis":{"x":"independent","y":"independent"}},
"layer":[
{"data":{"values":"x,lo,hi\n0.4125,0.052,0.082\n0.4625,0.045,0.078\n0.4875,0.042,0.075\n0.5125,0.0194,0.06\n0.5375,0.0116,0.0585\n0.5625,0.00001,0.055\n0.5875,0.00001,0.055\n0.4375,0.09,0.16\n0.5125,0.045,0.13\n0.5625,0.00001,0.08\n0.5875,0.00001,0.25\n0.5125,0.15,0.32\n0.5125,0.19,0.36\n0.5625,0.25,0.6\n0.5875,0.3,0.9","format":{"type":"csv","parse":{"x":"number","lo":"number","hi":"number"}}},
"mark":{"type":"rule","color":"#333","strokeWidth":1.3,"clip":true},
"encoding":{"x":{"field":"x","type":"quantitative","scale":{"domain":[0,1.2],"nice":false,"zero":false},"axis":{"orient":"bottom","values":[0,0.2,0.4,0.6,0.8,1,1.2],"tickSize":-13,"grid":true,"labelPadding":20,"labelExpr":"''+datum.value","title":"mT-mK (GeV)","titleX":525,"titleY":78,"titleAlign":"right","titleBaseline":"alphabetic"}},
"y":{"field":"lo","type":"quantitative","scale":{"type":"log","domain":[0.0002,30],"nice":false},"axis":{"orient":"left","values":[0.001,0.01,0.1,1,10],"tickSize":-16,"grid":true,"labelExpr":"datum.value==100?'10²':datum.value==10?'10':datum.value==1?'1':datum.value==0.1?'10⁻¹':datum.value==0.01?'10⁻²':datum.value==0.001?'10⁻³':''","labelPadding":26,"labelOffset":4,"title":null}},"y2":{"field":"hi"}}},
{"transform":[{"filter":"datum.p=='e'"},{"fold":["0-5%","5-10%","10-20%","20-30%","30-40%","40-50%","50-70%"],"as":["s","y"]},{"filter":"isValid(datum.y)"}],
"mark":{"type":"point","shape":"square","filled":true,"size":68,"opacity":1},
"encoding":{"x":{"field":"x","type":"quantitative","scale":{"domain":[0,1.2],"nice":false,"zero":false},"axis":null},"y":{"field":"y","type":"quantitative","scale":{"type":"log","domain":[0.0002,30],"nice":false},"axis":null},
"fill":{"field":"s","type":"nominal","scale":{"domain":["0-5%","5-10%","10-20%","20-30%","30-40%","40-50%","50-70%"],"range":["#ff0000","#00cc00","#dd0000","#009900","#990000","#006600","#660000"]}}}},
{"transform":[{"filter":"datum.p=='e'"},{"fold":["0-10%","10-30%","30-50%"],"as":["s","y"]},{"filter":"isValid(datum.y)"}],
"mark":{"type":"point","shape":"square","filled":true,"size":68,"opacity":1},
"encoding":{"x":{"field":"x","type":"quantitative","scale":{"domain":[0,1.2],"nice":false,"zero":false},"axis":{"orient":"bottom","values":[0.05,0.1,0.15,0.25,0.3,0.35,0.45,0.5,0.55,0.65,0.7,0.75,0.85,0.9,0.95,1.05,1.1,1.15],"tickSize":-7,"labels":false,"grid":false,"title":null}},
"y":{"field":"y","type":"quantitative","scale":{"type":"log","domain":[0.0002,30],"nice":false},"axis":{"orient":"left","values":[0.0002,0.0003,0.0004,0.0005,0.0006,0.0007,0.0008,0.0009,0.002,0.003,0.004,0.005,0.006,0.007,0.008,0.009,0.02,0.03,0.04,0.05,0.06,0.07,0.08,0.09,0.2,0.3,0.4,0.5,0.6,0.7,0.8,0.9,2,3,4,5,6,7,8,9,20,30],"tickSize":-8,"labels":false,"grid":false,"title":null}},
"color":{"field":"s","type":"nominal","scale":{"domain":["0-10%","10-30%","30-50%"],"range":["#0000ff","#0000cc","#000099"]}}}},
{"data":{"values":[{}]},"mark":{"type":"text","text":"STAR PRELIMINARY","font":"Open Sans","fontSize":26,"color":"#7f7f7f","align":"left","baseline":"alphabetic"},"encoding":{"x":{"datum":0.533,"type":"quantitative","axis":null},"y":{"datum":7.72,"type":"quantitative","axis":null}}},
{"data":{"values":[{}]},"mark":{"type":"text","text":"K","font":"Liberation Serif","fontSize":60,"fontStyle":"italic","fontWeight":"bold","color":"#0000ff","align":"left","baseline":"alphabetic"},"encoding":{"x":{"datum":0.0923,"type":"quantitative","axis":null},"y":{"datum":0.000524,"type":"quantitative","axis":null}}},
{"data":{"values":[{}]},"mark":{"type":"text","text":"-","font":"Liberation Serif","fontSize":40,"fontWeight":"bold","color":"#0000ff","align":"left","baseline":"alphabetic"},"encoding":{"x":{"datum":0.206,"type":"quantitative","axis":null},"y":{"datum":0.00117,"type":"quantitative","axis":null}}}
]},
{"width":525,"height":504,"resolve":{"axis":{"x":"independent","y":"independent"}},
"layer":[
{"data":{"values":"x,lo,hi\n0.5125,0.0064,0.018\n0.5375,0.000001,0.3\n0.5625,0.0023,0.0121\n0.5875,0.00168,0.014\n0.6125,0.00168,0.0121\n0.6375,0.0025,0.012\n0.6625,0.000001,0.2\n0.6875,0.000001,0.15\n0.7125,0.00058,0.012\n0.7125,0.1,0.22\n0.7375,0.012,0.2\n0.7625,0.025,0.22\n0.7875,0.0033,0.25\n0.5625,0.03,0.05\n0.5875,0.05,0.09\n0.6125,0.05,0.09","format":{"type":"csv","parse":{"x":"number","lo":"number","hi":"number"}}},
"mark":{"type":"rule","color":"#333","strokeWidth":1.3,"clip":true},
"encoding":{"x":{"field":"x","type":"quantitative","scale":{"domain":[0,1.2],"nice":false,"zero":false},"axis":{"orient":"bottom","values":[0,0.2,0.4,0.6,0.8,1,1.2],"tickSize":-13,"grid":true,"labelPadding":20,"labelExpr":"''+datum.value","title":"mT-mp (GeV)","titleX":525,"titleY":78,"titleAlign":"right","titleBaseline":"alphabetic"}},
"y":{"field":"lo","type":"quantitative","scale":{"type":"log","domain":[0.0002,30],"nice":false},"axis":{"orient":"left","values":[0.001,0.01,0.1,1,10],"tickSize":-16,"grid":true,"labelExpr":"datum.value==100?'10²':datum.value==10?'10':datum.value==1?'1':datum.value==0.1?'10⁻¹':datum.value==0.01?'10⁻²':datum.value==0.001?'10⁻³':''","labelPadding":26,"labelOffset":4,"title":null}},"y2":{"field":"hi"}}},
{"transform":[{"filter":"datum.p=='f'"},{"fold":["0-5%","5-10%","10-20%","20-30%","30-40%","40-50%","50-70%"],"as":["s","y"]},{"filter":"isValid(datum.y)"}],
"mark":{"type":"point","shape":"triangle-down","filled":true,"size":80,"opacity":1},
"encoding":{"x":{"field":"x","type":"quantitative","scale":{"domain":[0,1.2],"nice":false,"zero":false},"axis":null},"y":{"field":"y","type":"quantitative","scale":{"type":"log","domain":[0.0002,30],"nice":false},"axis":null},
"fill":{"field":"s","type":"nominal","scale":{"domain":["0-5%","5-10%","10-20%","20-30%","30-40%","40-50%","50-70%"],"range":["#ff0000","#00cc00","#dd0000","#009900","#990000","#006600","#660000"]}}}},
{"transform":[{"filter":"datum.p=='f'"},{"fold":["0-10%","10-30%","30-50%"],"as":["s","y"]},{"filter":"isValid(datum.y)"}],
"mark":{"type":"point","shape":"triangle-down","filled":true,"size":80,"opacity":1},
"encoding":{"x":{"field":"x","type":"quantitative","scale":{"domain":[0,1.2],"nice":false,"zero":false},"axis":{"orient":"bottom","values":[0.05,0.1,0.15,0.25,0.3,0.35,0.45,0.5,0.55,0.65,0.7,0.75,0.85,0.9,0.95,1.05,1.1,1.15],"tickSize":-7,"labels":false,"grid":false,"title":null}},
"y":{"field":"y","type":"quantitative","scale":{"type":"log","domain":[0.0002,30],"nice":false},"axis":{"orient":"left","values":[0.0002,0.0003,0.0004,0.0005,0.0006,0.0007,0.0008,0.0009,0.002,0.003,0.004,0.005,0.006,0.007,0.008,0.009,0.02,0.03,0.04,0.05,0.06,0.07,0.08,0.09,0.2,0.3,0.4,0.5,0.6,0.7,0.8,0.9,2,3,4,5,6,7,8,9,20,30],"tickSize":-8,"labels":false,"grid":false,"title":null}},
"color":{"field":"s","type":"nominal","scale":{"domain":["0-10%","10-30%","30-50%"],"range":["#0000ff","#0000cc","#000099"]}}}},
{"data":{"values":[{}]},"mark":{"type":"text","text":"STAR PRELIMINARY","font":"Open Sans","fontSize":26,"color":"#7f7f7f","align":"left","baseline":"alphabetic"},"encoding":{"x":{"datum":0.518,"type":"quantitative","axis":null},"y":{"datum":7.36,"type":"quantitative","axis":null}}},
{"data":{"values":[{}]},"mark":{"type":"text","text":"p","font":"Liberation Serif","fontSize":60,"fontStyle":"italic","fontWeight":"bold","color":"#ff00ff","align":"left","baseline":"alphabetic"},"encoding":{"x":{"datum":0.0837,"type":"quantitative","axis":null},"y":{"datum":0.000545,"type":"quantitative","axis":null}}},
{"data":{"values":[{}]},"mark":{"type":"rule","color":"#ff00ff","strokeWidth":2.5},"encoding":{"x":{"datum":0.095,"type":"quantitative","axis":null},"x2":{"datum":0.182},"y":{"datum":0.00115,"type":"quantitative","axis":null}}}
]}
],
"config":{
"view":{"stroke":"#000","strokeWidth":1.5},
"axis":{"domain":false,"grid":true,"gridColor":"#000","gridDash":[2,3],"gridWidth":1,"tickColor":"#000","tickWidth":1.3,"labelFont":"Liberation Sans","labelFontSize":28,"labelFontWeight":"bold","labelColor":"#000","titleFont":"Liberation Sans","titleFontWeight":"bold","titleColor":"#000","titleFontSize":28,"labelFlush":false,"labelOverlap":false},
"legend":{"titleFont":"Liberation Sans","titleFontSize":20,"titleFontWeight":"bold","titleColor":"#000","labelFont":"Liberation Sans","labelFontSize":20,"labelFontWeight":"bold","labelColor":"#000","padding":7,"strokeColor":"#000","strokeWidth":1.5,"fillColor":"#fff","labelOffset":7,"rowPadding":8,"titlePadding":11,"titleLimit":400,"labelLimit":300,"symbolOpacity":1}
}
}
